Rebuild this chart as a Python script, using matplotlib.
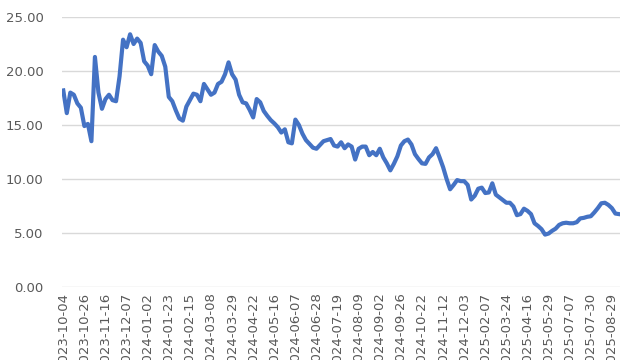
import matplotlib
matplotlib.use("Agg")
import matplotlib.pyplot as plt
import numpy as np

# tick labels shown on the category axis (every 6th point)
date_labels = [
    "2023-10-04", "2023-10-26", "2023-11-16", "2023-12-07", "2024-01-02",
    "2024-01-23", "2024-02-15", "2024-03-08", "2024-03-29", "2024-04-22",
    "2024-05-16", "2024-06-07", "2024-06-28", "2024-07-19", "2024-08-09",
    "2024-09-02", "2024-09-26", "2024-10-22", "2024-11-12", "2024-12-03",
    "2025-02-07", "2025-03-24", "2025-04-16", "2025-05-29", "2025-07-07",
    "2025-07-30", "2025-08-29",
]
label_step = 6

# series values
values = [
    18.2, 16.1, 18.0, 17.8, 17.0, 16.6, 14.9, 15.1, 13.5, 21.3,
    18.0, 16.5, 17.4, 17.8, 17.3, 17.2, 19.5, 22.9, 22.2, 23.4,
    22.5, 23.0, 22.6, 20.9, 20.5, 19.7, 22.4, 21.8, 21.4, 20.4,
    17.6, 17.2, 16.35, 15.6, 15.4, 16.7, 17.3, 17.9, 17.8, 17.2,
    18.8, 18.3, 17.8, 18.0, 18.8, 19.0, 19.7, 20.8, 19.7, 19.2,
    17.8, 17.1, 17.0, 16.4, 15.7, 17.4, 17.1, 16.3, 15.85, 15.45,
    15.15, 14.8, 14.3, 14.6, 13.4, 13.3, 15.5, 15.0, 14.2, 13.6,
    13.25, 12.9, 12.8, 13.15, 13.5, 13.6, 13.7, 13.1, 13.0, 13.4,
    12.85, 13.2, 13.0, 11.8, 12.8, 13.0, 13.0, 12.2, 12.5, 12.2,
    12.8, 12.0, 11.45, 10.8, 11.4, 12.1, 13.1, 13.5, 13.65, 13.2,
    12.3, 11.85, 11.45, 11.4, 12.0, 12.3, 12.85, 12.0, 11.1, 10.0,
    9.05, 9.45, 9.9, 9.8, 9.8, 9.45, 8.1, 8.45, 9.1, 9.2,
    8.7, 8.75, 9.6, 8.55, 8.3, 8.05, 7.8, 7.8, 7.45, 6.65,
    6.75, 7.25, 7.05, 6.75, 5.9, 5.65, 5.35, 4.85, 4.95, 5.2,
    5.4, 5.75, 5.9, 5.95, 5.9, 5.9, 6.0, 6.35, 6.4, 6.5,
    6.55, 6.9, 7.3, 7.75, 7.8, 7.6, 7.3, 6.8, 6.75,
]

y_ticks = [0, 5, 10, 15, 20, 25]

TEXT = "#595959"
GRID = "#d9d9d9"
LINE = "#4472c4"

plt.rcParams["font.family"] = ["DejaVu Sans"]

fig = plt.figure(figsize=(6.4, 3.6), dpi=100)
ax = fig.add_axes([0.0964, 0.2028, 0.8723, 0.75])

x = np.arange(len(values))
ax.plot(x, values, color=LINE, linewidth=3.0, solid_joinstyle="round")

ax.set_ylim(0, 25)
ax.set_xlim(-0.45, len(values) - 0.7)
ax.set_yticks(y_ticks)
ax.set_yticklabels([f"{v:.2f}" for v in y_ticks])
ax.set_xticks(x[::label_step][:len(date_labels)])
ax.set_xticklabels(date_labels, rotation=90, va="top", ha="center")

# excel-ish look: light horizontal gridlines, no frame, no tick marks
ax.grid(axis="y", color=GRID, linewidth=1.0)
ax.set_axisbelow(True)
for side in ["top", "right", "left", "bottom"]:
    ax.spines[side].set_visible(False)
ax.tick_params(axis="both", length=0, colors=TEXT, labelsize=9.5)
ax.tick_params(axis="y", pad=13)
ax.tick_params(axis="x", pad=4)

fig.savefig("out.png", dpi=100)
